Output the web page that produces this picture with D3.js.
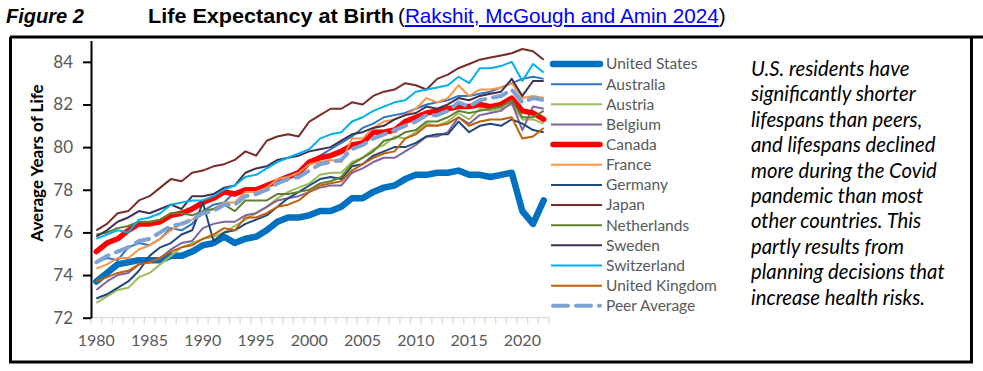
<html>
<head>
<meta charset="utf-8">
<script src="https://d3js.org/d3.v7.min.js"></script>
<style>
  body { margin: 0; background: #fff; }
  svg { display: block; }
</style>
</head>
<body>
<script>
// years on the category axis
var years = [1980, 1981, 1982, 1983, 1984, 1985, 1986, 1987, 1988, 1989,
             1990, 1991, 1992, 1993, 1994, 1995, 1996, 1997, 1998, 1999,
             2000, 2001, 2002, 2003, 2004, 2005, 2006, 2007, 2008, 2009,
             2010, 2011, 2012, 2013, 2014, 2015, 2016, 2017, 2018, 2019,
             2020, 2021, 2022]

var xTickLabels = [1980, 1985, 1990, 1995, 2000, 2005, 2010, 2015, 2020]
var yTicks = [72, 74, 76, 78, 80, 82, 84]

// life expectancy at birth
var unitedStates = [73.7, 74.1, 74.5, 74.6, 74.7, 74.7, 74.7, 74.9, 74.9, 75.1,
                    75.4, 75.5, 75.8, 75.5, 75.7, 75.8, 76.1, 76.5, 76.7, 76.7,
                    76.8, 77.0, 77.0, 77.2, 77.6, 77.6, 77.9, 78.1, 78.2, 78.5,
                    78.7, 78.7, 78.8, 78.8, 78.9, 78.7, 78.7, 78.6, 78.7, 78.8,
                    77.0, 76.4, 77.5]
var australia = [74.6, 74.8, 74.7, 75.3, 75.5, 75.4, 75.7, 76.2, 76.1, 76.4,
                 77.0, 77.3, 77.4, 77.9, 77.9, 78.0, 78.2, 78.5, 78.7, 78.9,
                 79.3, 79.6, 79.9, 80.2, 80.5, 80.9, 81.1, 81.4, 81.5, 81.6,
                 81.8, 82.0, 82.1, 82.2, 82.4, 82.4, 82.5, 82.6, 82.8, 83.0,
                 83.2, 83.3, 83.2]
var austria = [72.7, 73.0, 73.3, 73.4, 73.9, 74.1, 74.5, 74.9, 75.3, 75.5,
               75.7, 75.8, 76.0, 76.3, 76.6, 76.9, 77.2, 77.6, 77.9, 78.1,
               78.3, 78.7, 78.8, 78.8, 79.3, 79.5, 79.9, 80.1, 80.5, 80.4,
               80.7, 81.1, 81.0, 81.2, 81.6, 81.3, 81.8, 81.7, 81.8, 82.0,
               81.3, 81.3, 81.1]
var belgium = [73.3, 73.7, 74.0, 74.1, 74.5, 74.6, 74.8, 75.2, 75.5, 75.6,
               76.2, 76.4, 76.5, 76.5, 76.8, 76.9, 77.2, 77.5, 77.6, 77.7,
               77.9, 78.1, 78.2, 78.2, 78.8, 79.0, 79.3, 79.5, 79.5, 79.8,
               80.1, 80.5, 80.5, 80.7, 81.4, 81.1, 81.5, 81.6, 81.7, 82.1,
               80.8, 81.9, 81.8]
var canada = [75.1, 75.5, 75.7, 76.1, 76.4, 76.4, 76.5, 76.8, 76.9, 77.1,
              77.4, 77.6, 77.9, 77.8, 78.0, 78.0, 78.2, 78.4, 78.6, 78.8,
              79.3, 79.5, 79.6, 79.8, 80.1, 80.2, 80.7, 80.7, 80.8, 81.2,
              81.4, 81.6, 81.7, 81.8, 81.9, 81.9, 82.0, 81.9, 82.0, 82.3,
              81.7, 81.6, 81.3]
var france = [74.3, 74.5, 74.8, 74.8, 75.2, 75.4, 75.7, 76.1, 76.4, 76.6,
              76.9, 77.1, 77.4, 77.4, 77.9, 77.9, 78.1, 78.5, 78.6, 78.8,
              79.2, 79.3, 79.4, 79.3, 80.4, 80.4, 80.9, 81.2, 81.3, 81.5,
              81.8, 82.3, 82.1, 82.3, 82.9, 82.4, 82.7, 82.7, 82.8, 83.0,
              82.3, 82.4, 82.3]
var germany = [72.9, 73.1, 73.4, 73.7, 74.2, 74.9, 75.3, 75.5, 75.9, 76.1,
               77.4, 75.6, 76.0, 76.1, 76.4, 76.6, 76.8, 77.2, 77.6, 77.9,
               78.2, 78.5, 78.6, 78.5, 79.1, 79.2, 79.6, 79.8, 80.0, 80.0,
               80.2, 80.5, 80.6, 80.6, 81.2, 80.7, 81.0, 81.1, 81.0, 81.3,
               81.1, 80.8, 80.7]
var japan = [76.1, 76.4, 76.9, 77.0, 77.5, 77.7, 78.1, 78.5, 78.4, 78.8,
             78.9, 79.1, 79.2, 79.4, 79.8, 79.6, 80.3, 80.5, 80.6, 80.5,
             81.2, 81.5, 81.8, 81.8, 82.1, 82.0, 82.4, 82.6, 82.7, 83.0,
             82.9, 82.7, 83.2, 83.4, 83.7, 83.9, 84.1, 84.2, 84.3, 84.4,
             84.6, 84.5, 84.1]
var netherlands = [75.9, 76.0, 76.2, 76.3, 76.5, 76.5, 76.6, 76.9, 76.9, 76.8,
                   77.0, 77.1, 77.3, 77.0, 77.5, 77.5, 77.5, 77.8, 77.8, 77.9,
                   78.0, 78.3, 78.4, 78.6, 79.2, 79.5, 79.8, 80.3, 80.4, 80.7,
                   80.8, 81.2, 81.2, 81.4, 81.7, 81.6, 81.7, 81.8, 81.9, 82.2,
                   81.4, 81.4, 81.7]
var sweden = [75.8, 76.1, 76.5, 76.7, 77.0, 76.9, 77.1, 77.3, 77.1, 77.7,
              77.7, 77.8, 78.1, 78.2, 78.8, 79.0, 79.1, 79.4, 79.5, 79.6,
              79.8, 79.9, 80.0, 80.3, 80.6, 80.7, 80.9, 81.0, 81.3, 81.5,
              81.6, 81.9, 81.8, 82.0, 82.3, 82.2, 82.4, 82.5, 82.6, 83.2,
              82.4, 83.1, 83.1]
var switzerland = [75.7, 75.9, 76.1, 76.0, 76.6, 76.7, 76.9, 77.3, 77.4, 77.5,
                   77.5, 77.7, 78.0, 78.2, 78.6, 78.7, 79.0, 79.3, 79.5, 79.7,
                   79.9, 80.4, 80.6, 80.7, 81.2, 81.4, 81.7, 81.9, 82.1, 82.2,
                   82.6, 82.7, 82.8, 82.9, 83.3, 83.0, 83.7, 83.7, 83.8, 84.0,
                   83.1, 83.9, 83.5]
var unitedKingdom = [73.7, 73.9, 74.1, 74.2, 74.5, 74.6, 74.8, 75.1, 75.3, 75.4,
                     75.7, 75.9, 76.2, 76.1, 76.7, 76.7, 76.9, 77.2, 77.3, 77.5,
                     77.9, 78.2, 78.3, 78.4, 78.9, 79.2, 79.5, 79.7, 79.8, 80.4,
                     80.6, 81.0, 81.0, 81.1, 81.4, 81.0, 81.2, 81.3, 81.3, 81.4,
                     80.4, 80.5, 80.9]
var peerAverage = [74.6, 74.9, 75.1, 75.3, 75.6, 75.7, 76.0, 76.3, 76.4, 76.6,
                   76.9, 77.0, 77.3, 77.3, 77.7, 77.8, 78.0, 78.3, 78.5, 78.6,
                   78.9, 79.2, 79.3, 79.4, 79.9, 80.1, 80.4, 80.6, 80.8, 81.0,
                   81.2, 81.5, 81.5, 81.7, 82.1, 81.9, 82.2, 82.3, 82.4, 82.7,
                   82.1, 82.3, 82.2]

var seriesNames = ["United States", "Australia", "Austria", "Belgium", "Canada", "France",
                   "Germany", "Japan", "Netherlands", "Sweden", "Switzerland",
                   "United Kingdom", "Peer Average"]
var seriesValues = [unitedStates, australia, austria, belgium, canada, france,
                    germany, japan, netherlands, sweden, switzerland,
                    unitedKingdom, peerAverage]

// line styles, same order as the names
var styles = [
  {color: "#0070C0", width: 6.5},
  {color: "#2E75C6", width: 2},
  {color: "#9BBB59", width: 2},
  {color: "#8064A2", width: 2},
  {color: "#FF0000", width: 5.5},
  {color: "#F79646", width: 2},
  {color: "#1F497D", width: 2},
  {color: "#772C2A", width: 2},
  {color: "#5F7F2E", width: 2},
  {color: "#403152", width: 2},
  {color: "#00B0F0", width: 2},
  {color: "#C0600A", width: 2},
  {color: "#7DA2D6", width: 4, dash: "14,8"}
]

var width = 983
var height = 371
var font = "Lato, 'Open Sans', sans-serif"
var titleFont = "'Liberation Sans Narrow', 'Liberation Sans', Arial, sans-serif"

var svg = d3.select("body").append("svg")
  .attr("width", width)
  .attr("height", height)

// frame
svg.append("line")
  .attr("x1", 10).attr("x2", 983)
  .attr("y1", 37).attr("y2", 37)
  .attr("stroke", "#000").attr("stroke-width", 3)
svg.append("path")
  .attr("d", "M10.5,37 V362 H971.5 V37")
  .attr("fill", "none")
  .attr("stroke", "#000").attr("stroke-width", 3)

// title
svg.append("text")
  .attr("x", 6).attr("y", 23)
  .attr("font-family", titleFont)
  .attr("font-size", 21)
  .attr("font-weight", "bold")
  .attr("font-style", "italic")
  .attr("textLength", 78).attr("lengthAdjust", "spacingAndGlyphs")
  .text("Figure 2")
svg.append("text")
  .attr("x", 148).attr("y", 23)
  .attr("font-family", titleFont)
  .attr("font-size", 21)
  .attr("font-weight", "bold")
  .attr("textLength", 246).attr("lengthAdjust", "spacingAndGlyphs")
  .text("Life Expectancy at Birth")
var source = svg.append("text")
  .attr("x", 398).attr("y", 23)
  .attr("font-family", titleFont)
  .attr("font-size", 20.7)
source.append("tspan").text("(")
source.append("tspan").attr("fill", "#0000FF").attr("text-decoration", "underline")
  .text("Rakshit, McGough and Amin 2024")
source.append("tspan").text(")")

// scales
var x = d3.scaleBand().domain(years).range([91, 549])
var y = d3.scaleLinear().domain([72, 85]).range([317.7, 40.5])
var cx = function(d){ return x(d) + x.bandwidth() / 2 }

// x axis: light gray line with ticks between categories
var xAxis = svg.append("g")
xAxis.append("line")
  .attr("x1", x.range()[0]).attr("x2", x.range()[1])
  .attr("y1", y(72)).attr("y2", y(72))
  .attr("stroke", "#D9D9D9").attr("stroke-width", 1.3)
xAxis.selectAll("line.tick")
  .data(years.concat(["end"]))
  .enter().append("line")
  .attr("class", "tick")
  .attr("x1", function(d){ return d === "end" ? x.range()[1] : x(d) })
  .attr("x2", function(d){ return d === "end" ? x.range()[1] : x(d) })
  .attr("y1", y(72)).attr("y2", y(72) + 6)
  .attr("stroke", "#D9D9D9").attr("stroke-width", 1.3)
xAxis.selectAll("text")
  .data(xTickLabels)
  .enter().append("text")
  .attr("x", cx)
  .attr("y", 346)
  .attr("text-anchor", "middle")
  .attr("font-family", font)
  .attr("font-size", 16)
  .attr("fill", "#595959")
  .text(function(d){ return d })

// y axis
var yAxis = svg.append("g")
  .attr("transform", "translate(91,0)")
  .call(d3.axisLeft(y).tickValues(yTicks).tickSize(8).tickSizeOuter(0).tickPadding(10))
yAxis.select(".domain").attr("stroke", "#000").attr("stroke-width", 2)
yAxis.selectAll(".tick line").attr("stroke", "#000").attr("stroke-width", 2)
yAxis.selectAll(".tick text")
  .attr("font-family", font)
  .attr("font-size", 17)
  .attr("fill", "#595959")

svg.append("text")
  .attr("transform", "translate(43,163) rotate(-90)")
  .attr("text-anchor", "middle")
  .attr("font-family", font)
  .attr("font-weight", "bold")
  .attr("font-size", 17)
  .attr("fill", "#000")
  .text("Average Years of Life")

// lines
var line = d3.line()
  .x(function(d, i){ return cx(years[i]) })
  .y(function(d){ return y(d) })

svg.append("g").selectAll("path")
  .data(seriesValues)
  .enter().append("path")
  .attr("d", line)
  .attr("fill", "none")
  .attr("stroke", function(d, i){ return styles[i].color })
  .attr("stroke-width", function(d, i){ return styles[i].width })
  .attr("stroke-dasharray", function(d, i){ return styles[i].dash || null })
  .attr("stroke-linejoin", "round")
  .attr("stroke-linecap", function(d, i){ return styles[i].width > 3 ? "round" : "butt" })

// legend
var legend = svg.append("g").selectAll("g")
  .data(seriesNames)
  .enter().append("g")
  .attr("transform", function(d, i){ return "translate(551," + (64 + i * 20.15) + ")" })
legend.append("line")
  .attr("x1", function(d, i){ return styles[i].width > 3 ? 2 : 0 })
  .attr("x2", function(d, i){ return styles[i].width > 3 ? 49 : 51 })
  .attr("stroke", function(d, i){ return styles[i].color })
  .attr("stroke-width", function(d, i){ return styles[i].width })
  .attr("stroke-dasharray", function(d, i){ return styles[i].dash ? "15,8" : null })
  .attr("stroke-linecap", function(d, i){ return styles[i].width > 3 ? "round" : "butt" })
legend.append("text")
  .attr("x", 55)
  .attr("dy", "0.35em")
  .attr("font-family", font)
  .attr("font-size", 15.5)
  .attr("fill", "#595959")
  .text(function(d){ return d })

// note on the right
var note = ["U.S. residents have", "significantly shorter", "lifespans than peers,",
            "and lifespans declined", "more during the Covid", "pandemic than most",
            "other countries. This", "partly results from", "planning decisions that",
            "increase health risks."]
svg.append("g").selectAll("text")
  .data(note)
  .enter().append("text")
  .attr("x", 751)
  .attr("y", function(d, i){ return 76 + i * 25.4 })
  .attr("font-family", font)
  .attr("font-style", "italic")
  .attr("font-size", 20.3)
  .attr("fill", "#000")
  .text(function(d){ return d })
</script>
</body>
</html>
